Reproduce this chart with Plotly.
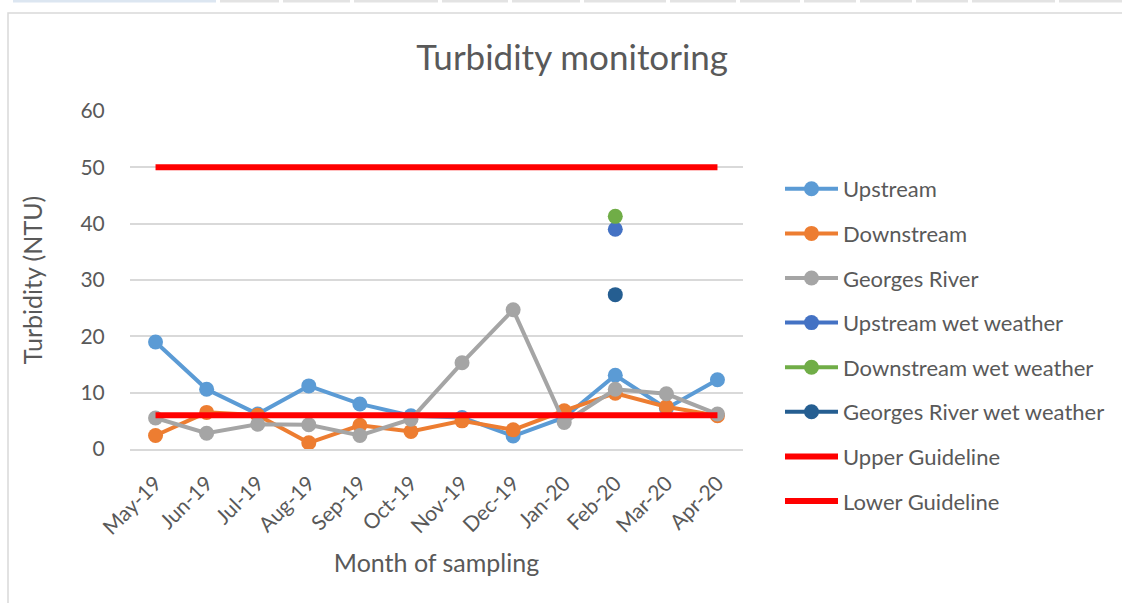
"""Turbidity monitoring line chart."""

import plotly.graph_objects as go

MONTHS = ["May-19", "Jun-19", "Jul-19", "Aug-19", "Sep-19", "Oct-19",
          "Nov-19", "Dec-19", "Jan-20", "Feb-20", "Mar-20", "Apr-20"]

UPSTREAM = [19.0, 10.6, 6.2, 11.2, 8.0, 5.9, 5.6, 2.3, 5.6, 13.1, 7.2, 12.3]
DOWNSTREAM = [2.4, 6.5, 6.0, 1.1, 4.2, 3.1, 5.0, 3.4, 6.8, 9.9, 7.5, 5.9]
GEORGES = [5.5, 2.8, 4.4, 4.3, 2.4, 5.3, 15.3, 24.7, 4.7, 10.6, 9.8, 6.2]
UPSTREAM_WET = [None] * 9 + [39.0, None, None]
DOWNSTREAM_WET = [None] * 9 + [41.3, None, None]
GEORGES_WET = [None] * 9 + [27.4, None, None]
UPPER_GUIDELINE = [50] * 12
LOWER_GUIDELINE = [6] * 12

TEXT = "#595959"
FONT = "Lato"

# plot area in pixels
L, R, T, B = 130, 743, 111, 449
W, H = R - L, B - T


def px(x):
    return (x - L) / W


def py(y):
    return (B - y) / H


fig = go.Figure()

series = [
    ("Upstream", UPSTREAM, "#5B9BD5"),
    ("Downstream", DOWNSTREAM, "#ED7D31"),
    ("Georges River", GEORGES, "#A5A5A5"),
    ("Upstream wet weather", UPSTREAM_WET, "#4472C4"),
    ("Downstream wet weather", DOWNSTREAM_WET, "#70AD47"),
    ("Georges River wet weather", GEORGES_WET, "#255E91"),
]
for name, values, color in series:
    fig.add_trace(go.Scatter(
        x=MONTHS, y=values, name=name, mode="lines+markers",
        line={"color": color, "width": 4},
        marker={"color": color, "size": 15},
        legendgroup=name,
    ))

for name, values in [("Upper Guideline", UPPER_GUIDELINE), ("Lower Guideline", LOWER_GUIDELINE)]:
    fig.add_trace(go.Scatter(
        x=MONTHS, y=values, name=name, mode="lines",
        line={"color": "#FF0000", "width": 6},
        legendgroup=name,
    ))

# chart frame
fig.add_shape(type="rect", xref="paper", yref="paper",
              x0=px(8), x1=px(1140), y0=py(620), y1=py(13),
              line={"color": "#D9D9D9", "width": 1.5}, layer="below")

# spreadsheet header cells peeking above the chart
cell_edges = [11, 218, 281, 352, 440, 510, 582, 668, 738, 802, 858, 914, 970, 1057, 1125]
for i in range(len(cell_edges) - 1):
    fig.add_shape(type="rect", xref="paper", yref="paper",
                  x0=px(cell_edges[i] + 2), x1=px(cell_edges[i + 1] - 2),
                  y0=py(2.5), y1=py(0),
                  fillcolor="#DCE6F1" if i == 0 else "#E3E3E3",
                  line={"width": 0}, layer="below")

fig.update_layout(
    width=1122, height=603,
    margin={"l": L, "r": 1122 - R, "t": T, "b": 603 - B, "autoexpand": False},
    paper_bgcolor="white", plot_bgcolor="white",
    font={"family": FONT, "color": TEXT, "size": 21},
    title={"text": "Turbidity monitoring", "x": 0.51, "xref": "container", "xanchor": "center",
           "y": 0.904, "yref": "container", "yanchor": "middle",
           "font": {"size": 35, "color": TEXT, "family": FONT}},
    xaxis={"title": {"text": "Month of sampling", "font": {"size": 25}, "standoff": 17},
           "range": [-0.5, len(MONTHS) - 0.5],
           "tickangle": -45, "showgrid": False, "showline": True,
           "linecolor": "#D9D9D9", "linewidth": 1.5, "automargin": False,
           "ticks": "outside", "ticklen": 12, "tickcolor": "rgba(0,0,0,0)",
           "tickfont": {"size": 21}},
    yaxis={"title": {"text": "Turbidity (NTU)", "font": {"size": 25}, "standoff": 30},
           "range": [0, 60], "dtick": 10, "gridcolor": "#D9D9D9", "gridwidth": 1.5,
           "zeroline": False, "showline": False, "automargin": False,
           "ticks": "outside", "ticklen": 20, "tickcolor": "rgba(0,0,0,0)",
           "tickfont": {"size": 21}},
    legend={"x": px(780), "y": py(168), "xanchor": "left", "yanchor": "top",
            "font": {"size": 22}, "itemwidth": 53, "tracegroupgap": 13,
            "traceorder": "grouped", "bgcolor": "rgba(0,0,0,0)", "maxheight": 560},
)

fig.write_html("out.html", config={"displayModeBar": False},
               post_script="document.body.style.margin = '0';")
